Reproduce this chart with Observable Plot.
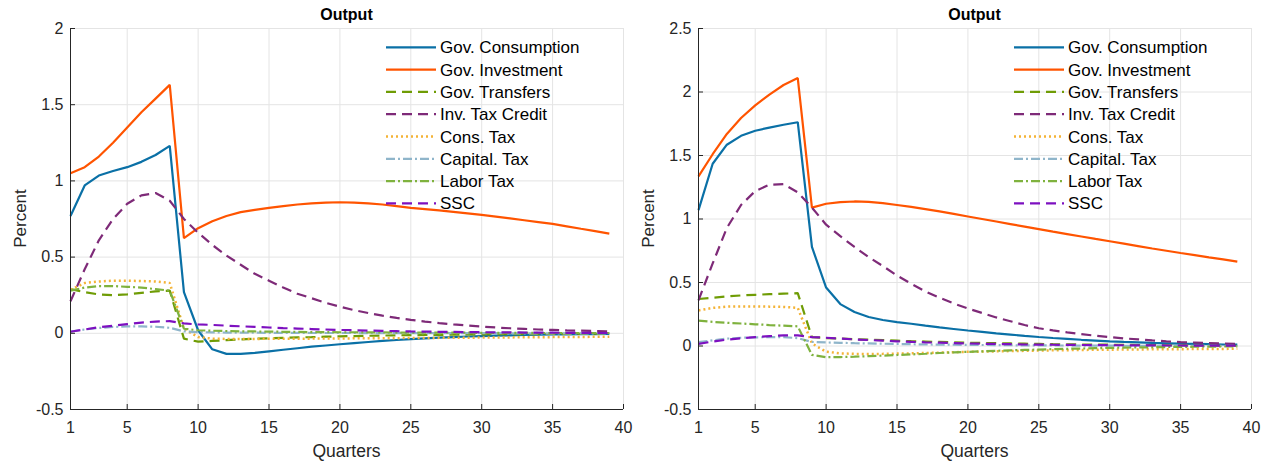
<!DOCTYPE html>
<html><head><meta charset="utf-8">
<script src="https://cdn.jsdelivr.net/npm/d3@7"></script>
<script src="https://cdn.jsdelivr.net/npm/@observablehq/plot@0.6"></script>
<style>
html,body{margin:0;padding:0;background:#fff;}
#wrap{position:relative;width:1262px;height:465px;font-family:"Liberation Sans",Arial,sans-serif;}
.panel{position:absolute;top:0;}
#overlay{position:absolute;left:0;top:0;pointer-events:none;}
</style></head>
<body><div id="wrap"></div>
<script>
// ---------- data ----------
const quarters = d3.range(1, 40);
const xTicks = [1, 5, 10, 15, 20, 25, 30, 35, 40];
const yTicksLeft = [-0.5, 0, 0.5, 1, 1.5, 2];
const yTicksRight = [-0.5, 0, 0.5, 1, 1.5, 2, 2.5];
const panelTitles = ["Output", "Output"];
const xLabel = "Quarters";
const yLabel = "Percent";
const seriesNames = ["Gov. Consumption", "Gov. Investment", "Gov. Transfers", "Inv. Tax Credit", "Cons. Tax", "Capital. Tax", "Labor Tax", "SSC"];
const seriesColors = ["#0a70a6", "#ff5400", "#6f9c05", "#7e2a78", "#f4b336", "#8fb5ca", "#7fb23e", "#7d10c0"];
const seriesDashes = ["none", "none", "10,6", "10,6", "2,3", "9,3,2,3", "9,3,2,3", "10,6"];

// left panel
const leftGovConsumption = [0.77,0.97,1.035,1.065,1.09,1.125,1.17,1.23,0.27,0.02,-0.105,-0.135,-0.135,-0.128,-0.118,-0.108,-0.098,-0.088,-0.08,-0.072,-0.064,-0.057,-0.05,-0.044,-0.038,-0.033,-0.029,-0.025,-0.021,-0.018,-0.015,-0.013,-0.011,-0.009,-0.008,-0.007,-0.006,-0.005,-0.004];
const leftGovInvestment = [1.05,1.09,1.16,1.25,1.35,1.45,1.54,1.63,0.625,0.69,0.735,0.77,0.795,0.81,0.823,0.835,0.845,0.853,0.858,0.86,0.858,0.853,0.845,0.835,0.823,0.815,0.806,0.797,0.787,0.777,0.766,0.754,0.742,0.73,0.718,0.702,0.686,0.67,0.654];
const leftGovTransfers = [0.29,0.27,0.255,0.25,0.255,0.265,0.275,0.28,-0.035,-0.055,-0.05,-0.045,-0.04,-0.036,-0.033,-0.03,-0.027,-0.025,-0.022,-0.02,-0.018,-0.016,-0.015,-0.013,-0.012,-0.011,-0.01,-0.009,-0.008,-0.007,-0.006,-0.006,-0.005,-0.005,-0.004,-0.004,-0.003,-0.003,-0.003];
const leftInvTaxCredit = [0.21,0.42,0.61,0.75,0.85,0.905,0.92,0.87,0.75,0.66,0.58,0.51,0.45,0.39,0.345,0.3,0.26,0.23,0.2,0.175,0.152,0.133,0.116,0.101,0.088,0.077,0.067,0.058,0.051,0.044,0.038,0.033,0.029,0.025,0.022,0.019,0.017,0.015,0.013];
const leftConsTax = [0.285,0.33,0.34,0.345,0.345,0.343,0.34,0.33,0.03,-0.025,-0.035,-0.037,-0.037,-0.037,-0.036,-0.036,-0.035,-0.035,-0.034,-0.034,-0.033,-0.033,-0.032,-0.032,-0.031,-0.031,-0.03,-0.03,-0.029,-0.028,-0.028,-0.027,-0.026,-0.026,-0.025,-0.024,-0.024,-0.023,-0.023];
const leftCapitalTax = [0.012,0.025,0.035,0.042,0.045,0.045,0.043,0.036,0.013,0.008,0.006,0.005,0.004,0.004,0.003,0.003,0.003,0.002,0.002,0.002,0.002,0.001,0.001,0.001,0.001,0.001,0.001,0.001,0.001,0.001,0.001,0,0,0,0,0,0,0,0];
const leftLaborTax = [0.28,0.3,0.31,0.31,0.305,0.3,0.29,0.28,0.03,0.02,0.017,0.015,0.013,0.012,0.011,0.01,0.009,0.008,0.008,0.007,0.007,0.006,0.006,0.005,0.005,0.005,0.004,0.004,0.004,0.003,0.003,0.003,0.003,0.002,0.002,0.002,0.002,0.002,0.002];
const leftSSC = [0.01,0.025,0.04,0.05,0.06,0.07,0.077,0.08,0.065,0.058,0.055,0.05,0.046,0.042,0.038,0.034,0.031,0.028,0.025,0.022,0.02,0.018,0.016,0.014,0.012,0.011,0.01,0.009,0.008,0.007,0.006,0.006,0.005,0.004,0.004,0.003,0.003,0.002,0.002];

// right panel
const rightGovConsumption = [1.07,1.435,1.585,1.655,1.695,1.72,1.742,1.762,0.78,0.46,0.33,0.268,0.228,0.205,0.188,0.175,0.16,0.146,0.134,0.122,0.111,0.1,0.09,0.08,0.071,0.063,0.056,0.049,0.043,0.037,0.032,0.028,0.024,0.021,0.018,0.016,0.014,0.012,0.011];
const rightGovInvestment = [1.335,1.51,1.67,1.795,1.895,1.98,2.055,2.11,1.09,1.12,1.133,1.138,1.135,1.125,1.11,1.095,1.078,1.06,1.04,1.02,1.0,0.98,0.96,0.94,0.92,0.9,0.881,0.862,0.843,0.825,0.806,0.787,0.768,0.75,0.732,0.715,0.698,0.682,0.665];
const rightGovTransfers = [0.37,0.38,0.39,0.398,0.403,0.408,0.412,0.416,0.07,0.062,0.058,0.054,0.05,0.046,0.042,0.038,0.035,0.032,0.029,0.026,0.024,0.022,0.02,0.018,0.016,0.014,0.013,0.012,0.011,0.01,0.009,0.008,0.007,0.006,0.005,0.004,0.003,0.003,0.002];
const rightInvTaxCredit = [0.36,0.65,0.93,1.11,1.22,1.27,1.275,1.21,1.09,0.955,0.865,0.78,0.7,0.63,0.555,0.49,0.43,0.38,0.335,0.295,0.26,0.225,0.195,0.165,0.14,0.123,0.107,0.093,0.081,0.07,0.06,0.052,0.044,0.037,0.031,0.027,0.023,0.02,0.017];
const rightConsTax = [0.28,0.3,0.31,0.312,0.312,0.31,0.308,0.3,0.02,-0.045,-0.058,-0.062,-0.063,-0.062,-0.06,-0.058,-0.055,-0.052,-0.049,-0.046,-0.044,-0.042,-0.04,-0.038,-0.036,-0.034,-0.033,-0.031,-0.03,-0.029,-0.028,-0.027,-0.026,-0.025,-0.025,-0.024,-0.023,-0.023,-0.022];
const rightCapitalTax = [0.03,0.045,0.058,0.065,0.068,0.07,0.07,0.062,0.032,0.028,0.025,0.022,0.02,0.018,0.016,0.014,0.012,0.011,0.01,0.009,0.008,0.007,0.006,0.005,0.005,0.004,0.004,0.003,0.003,0.003,0.002,0.002,0.002,0.002,0.001,0.001,0.001,0.001,0.001];
const rightLaborTax = [0.2,0.19,0.183,0.177,0.171,0.165,0.16,0.155,-0.07,-0.088,-0.087,-0.084,-0.08,-0.076,-0.071,-0.066,-0.061,-0.055,-0.05,-0.046,-0.042,-0.038,-0.034,-0.031,-0.028,-0.025,-0.022,-0.02,-0.017,-0.015,-0.013,-0.011,-0.01,-0.008,-0.007,-0.006,-0.005,-0.004,-0.003];
const rightSSC = [0.017,0.035,0.05,0.06,0.07,0.078,0.083,0.083,0.07,0.065,0.058,0.052,0.047,0.042,0.037,0.033,0.029,0.026,0.023,0.02,0.018,0.016,0.014,0.012,0.011,0.01,0.009,0.008,0.007,0.006,0.006,0.005,0.005,0.004,0.004,0.003,0.003,0.003,0.002];

const leftSeries = [leftGovConsumption, leftGovInvestment, leftGovTransfers, leftInvTaxCredit, leftConsTax, leftCapitalTax, leftLaborTax, leftSSC];
const rightSeries = [rightGovConsumption, rightGovInvestment, rightGovTransfers, rightInvTaxCredit, rightConsTax, rightCapitalTax, rightLaborTax, rightSSC];

// ---------- layout ----------
const W = 631, H = 465, MT = 28, MB = 56;
const FW = 553, FH = H - MT - MB;
const FONT = "'Liberation Sans', Arial, sans-serif";
const INK = "#262626";
const GRID = "#e4e4e4";
const LW = 2.2;

function makePanel(seriesArrays, yTicks, marginLeft) {
  const yMin = yTicks[0], yMax = yTicks[yTicks.length - 1];
  const marginRight = W - marginLeft - FW;
  const lineMarks = seriesArrays.map((arr, i) =>
    Plot.lineY(arr, {
      x: (d, j) => quarters[j], y: d => d,
      stroke: seriesColors[i], strokeWidth: seriesDashes[i] === "2,3" ? 2.5 : LW,
      strokeDasharray: seriesDashes[i] === "none" ? undefined : seriesDashes[i],
      strokeLinejoin: "miter", strokeLinecap: "butt"
    })
  );
  return Plot.plot({
    width: W, height: H,
    marginLeft, marginRight, marginTop: MT, marginBottom: MB,
    x: {domain: [1, 40]},
    y: {domain: [yMin, yMax]},
    style: {fontFamily: FONT, fontSize: "16px", color: INK, background: "transparent", overflow: "visible"},
    marks: [
      Plot.gridX(xTicks, {stroke: GRID, strokeOpacity: 1}),
      Plot.gridY(yTicks, {stroke: GRID, strokeOpacity: 1}),
      ...lineMarks,
      Plot.ruleX([1], {stroke: INK, strokeWidth: 1}),
      Plot.ruleY([yMin], {stroke: INK, strokeWidth: 1}),
      Plot.ruleX(xTicks, {x: d => d, insetTop: FH - 5, stroke: INK}),
      Plot.ruleY(yTicks, {y: d => d, insetRight: FW - 5, stroke: INK}),
      Plot.axisX(xTicks, {tickSize: 0, tickPadding: 12, tickFormat: d => String(d), label: null, fontSize: 16}),
      Plot.axisY(yTicks, {tickSize: 0, tickPadding: 7, tickFormat: d => String(d), label: null, fontSize: 16})
    ]
  });
}

const wrap = document.getElementById("wrap");
const panels = [
  {left: 0, ml: 70, series: leftSeries, ticks: yTicksLeft},
  {left: 628, ml: 70, series: rightSeries, ticks: yTicksRight}
];
panels.forEach(p => {
  const div = document.createElement("div");
  div.className = "panel";
  div.style.left = p.left + "px";
  div.appendChild(makePanel(p.series, p.ticks, p.ml));
  wrap.appendChild(div);
});

// ---------- overlay: titles, axis labels, legends ----------
const svg = d3.select(wrap).append("svg").attr("id", "overlay")
  .attr("width", 1262).attr("height", 465)
  .style("font-family", FONT);
panels.forEach((p, k) => {
  const fx0 = p.left + p.ml, cx = fx0 + FW / 2;
  svg.append("text").attr("x", cx).attr("y", 20).attr("text-anchor", "middle")
    .attr("font-weight", "bold").attr("font-size", 16).attr("fill", "#000").text(panelTitles[k]);
  svg.append("text").attr("x", cx).attr("y", 457).attr("text-anchor", "middle")
    .attr("font-size", 17.5).attr("fill", INK).text(xLabel);
  svg.append("text").attr("transform", `translate(${p.left + 26},${MT + FH / 2}) rotate(-90)`)
    .attr("text-anchor", "middle").attr("font-size", 17).attr("fill", INK).text(yLabel);
  const lx = fx0 + 316;
  seriesNames.forEach((name, i) => {
    const cy = 47.3 + i * 22.3;
    svg.append("line").attr("x1", lx).attr("x2", lx + 50).attr("y1", cy).attr("y2", cy)
      .attr("stroke", seriesColors[i]).attr("stroke-width", seriesDashes[i] === "2,3" ? 2.5 : LW)
      .attr("stroke-dasharray", seriesDashes[i] === "none" ? null : seriesDashes[i]);
    svg.append("text").attr("x", lx + 54).attr("y", cy + 6).attr("font-size", 17)
      .attr("fill", "#000").text(name);
  });
});
</script>
</body></html>
